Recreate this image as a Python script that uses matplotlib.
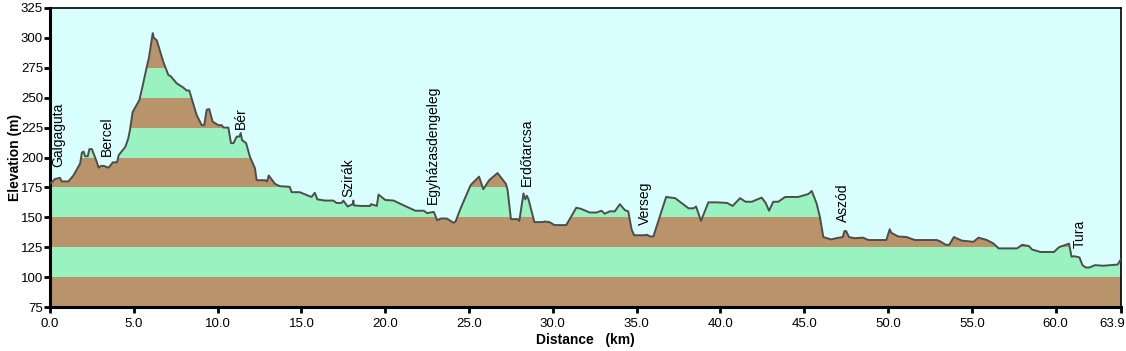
import matplotlib
matplotlib.use("Agg")
import matplotlib.pyplot as plt
from matplotlib.transforms import ScaledTranslation

# profile: distance (km) / elevation (m)
dist = [0.0, 0.3, 0.6, 0.7, 1.1, 1.4, 1.8, 1.9, 2.0, 2.1, 2.25, 2.35, 2.5, 2.8, 2.9,
        3.05, 3.2, 3.5, 3.75, 4.0, 4.1, 4.5, 4.67, 4.77, 4.93, 5.13, 5.33, 5.53, 5.73,
        5.91, 6.13, 6.2, 6.37, 6.76, 7.06, 7.2, 7.56, 7.95, 8.15, 8.31, 8.45, 8.75,
        9.05, 9.2, 9.35, 9.5, 9.7, 10.05, 10.25, 10.35, 10.64, 10.8, 10.95, 11.14,
        11.3, 11.38, 11.46, 11.7, 11.93, 12.23, 12.33, 12.83, 12.95, 13.05, 13.42,
        13.72, 14.3, 14.42, 14.9, 15.6, 15.8, 15.95, 16.4, 16.9, 17.1, 17.4, 17.5,
        17.76, 18.06, 18.1, 18.13, 18.5, 19.1, 19.15, 19.5, 19.6, 20.0, 20.5, 21.1,
        21.8, 22.3, 22.5, 22.9, 23.1, 23.3, 23.67, 24.07, 24.2, 24.5, 25.1, 25.6,
        25.85, 26.2, 26.7, 27.2, 27.3, 27.5, 27.9, 28.0, 28.25, 28.35, 28.45, 28.55,
        28.9, 29.4, 29.5, 29.8, 30.1, 30.8, 31.4, 31.7, 32.2, 32.6, 32.9, 33.1, 33.4,
        33.7, 34.0, 34.3, 34.5, 34.7, 34.85, 35.5, 35.6, 35.8, 36.0, 36.3, 36.76,
        37.3, 38.1, 38.4, 38.55, 38.84, 39.28, 39.8, 40.4, 40.73, 41.17, 41.5, 41.87,
        42.46, 42.7, 42.9, 43.15, 43.45, 43.86, 44.65, 45.25, 45.45, 45.74, 45.94,
        46.14, 46.6, 46.9, 47.3, 47.4, 47.5, 47.67, 48.0, 48.5, 48.83, 49.9, 50.1,
        50.2, 50.6, 51.1, 51.6, 52.9, 53.1, 53.45, 53.65, 53.93, 54.4, 55.1, 55.4,
        55.9, 56.3, 56.6, 57.7, 58.0, 58.4, 58.6, 59.1, 59.9, 60.2, 60.8, 60.95,
        61.1, 61.42, 61.6, 61.8, 62.0, 62.35, 62.85, 63.7, 63.9]
elev = [178, 182, 183, 180, 180, 185, 195, 204, 205, 201, 201, 207, 207, 196, 191.5,
        193, 193, 191.5, 196, 196, 202, 209, 216, 223, 238, 243, 248, 260, 273,
        284, 304, 300, 298, 280, 269, 268, 262, 258.5, 256, 256, 249.5, 235.5,
        227, 227, 240, 240.5, 230, 227, 227, 225, 225, 212, 212, 217.5,
        217.5, 220.5, 214.5, 212, 200.5, 191, 181, 181, 180, 185, 178,
        176, 175.5, 171, 171, 167, 170.5, 165, 164, 164, 162, 162, 164,
        159, 161, 164, 160, 159.5, 159.5, 161, 159.5, 169, 164.5, 164, 160,
        155.5, 155.5, 153.5, 154.5, 147.5, 149, 149, 145.5, 146.5, 157.5, 177, 184,
        173.5, 181, 187, 178, 173, 148.5, 148.5, 147, 170, 165, 168, 165,
        146, 146, 146.5, 146, 143.5, 143.5, 158, 157, 154, 154, 155.5, 153, 155,
        155, 161, 156, 155, 140, 135, 135, 135.5, 134, 134, 147, 167,
        166, 157.5, 157.5, 159, 147, 162.5, 162.5, 162, 159.5, 166, 163, 163,
        166.5, 162, 155.5, 163, 163, 167, 167, 169.5, 172, 161.5, 150,
        133.5, 131.5, 132.5, 133.5, 138.5, 138.5, 133.5, 132.5, 133, 131, 131, 140,
        137, 134, 133.5, 131, 131, 130, 127, 127, 133.5, 130.5, 129.5, 133,
        131, 128, 124, 124, 127, 126, 123, 121, 121, 125, 128, 117,
        117.5, 116.5, 110, 108, 108, 110, 109.5, 110.5, 115]

towns = ["Galgaguta", "Bercel", "Bér", "Szirák", "Egyházasdengeleg", "Erdőtarcsa",
         "Verseg", "Aszód", "Tura"]
town_km = [0.5, 3.42, 11.38, 17.8, 22.87, 28.44, 35.5, 47.3, 61.45]
town_y = [192, 201, 224, 167, 161, 176, 143.5, 146, 124]

band_edges = [75, 100, 125, 150, 175, 200, 225, 250, 275, 300, 325]
xticks = [0, 5, 10, 15, 20, 25, 30, 35, 40, 45, 50, 55, 60, 63.9]

BROWN = "#b9936a"
GREEN = "#99f2bf"
SKY = "#d9ffff"

plt.rcParams["font.family"] = ["Liberation Sans", "DejaVu Sans"]

fig = plt.figure(figsize=(11.26, 3.51), dpi=100)
ax = fig.add_axes([50 / 1126, 44 / 351, 1071 / 1126, 299 / 351])
ax.set_facecolor(SKY)

# ground polygon, used to clip the coloured elevation bands
ground = ax.fill_between(dist, elev, band_edges[0], color="none", lw=0)
for i in range(len(band_edges) - 1):
    band = ax.axhspan(band_edges[i], band_edges[i + 1], lw=0,
                      color=BROWN if i % 2 == 0 else GREEN, zorder=1)
    band.set_clip_path(ground.get_paths()[0], ax.transData)
ax.plot(dist, elev, color="#4d4d4d", lw=1.4, zorder=3)

for name, km, y in zip(towns, town_km, town_y):
    ax.text(km, y, name, rotation=90, ha="center", va="bottom", fontsize=10, zorder=4)

ax.set_xlim(dist[0], dist[-1])
ax.set_ylim(band_edges[0], band_edges[-1])
ax.set_xticks(xticks)
ax.set_xticklabels([f"{v:.1f}" for v in xticks])
ax.set_yticks(band_edges)
ax.tick_params(axis="both", direction="out", length=4, width=2, labelsize=9.5)
ax.tick_params(axis="y", pad=1)
ax.tick_params(axis="x", pad=4)

# keep the last distance label inside the figure
last = ax.get_xticklabels()[-1]
last.set_transform(last.get_transform() + ScaledTranslation(-9 / 100, 0, fig.dpi_scale_trans))

for side in ["left", "bottom"]:
    ax.spines[side].set_linewidth(2.2)
for side in ["top", "right"]:
    ax.spines[side].set_linewidth(1.2)

ax.set_xlabel("Distance   (km)", fontsize=10, fontweight="bold", labelpad=2)
ax.set_ylabel("Elevation (m)", fontsize=10, fontweight="bold", labelpad=-1)

fig.savefig("out.png", dpi=100)
